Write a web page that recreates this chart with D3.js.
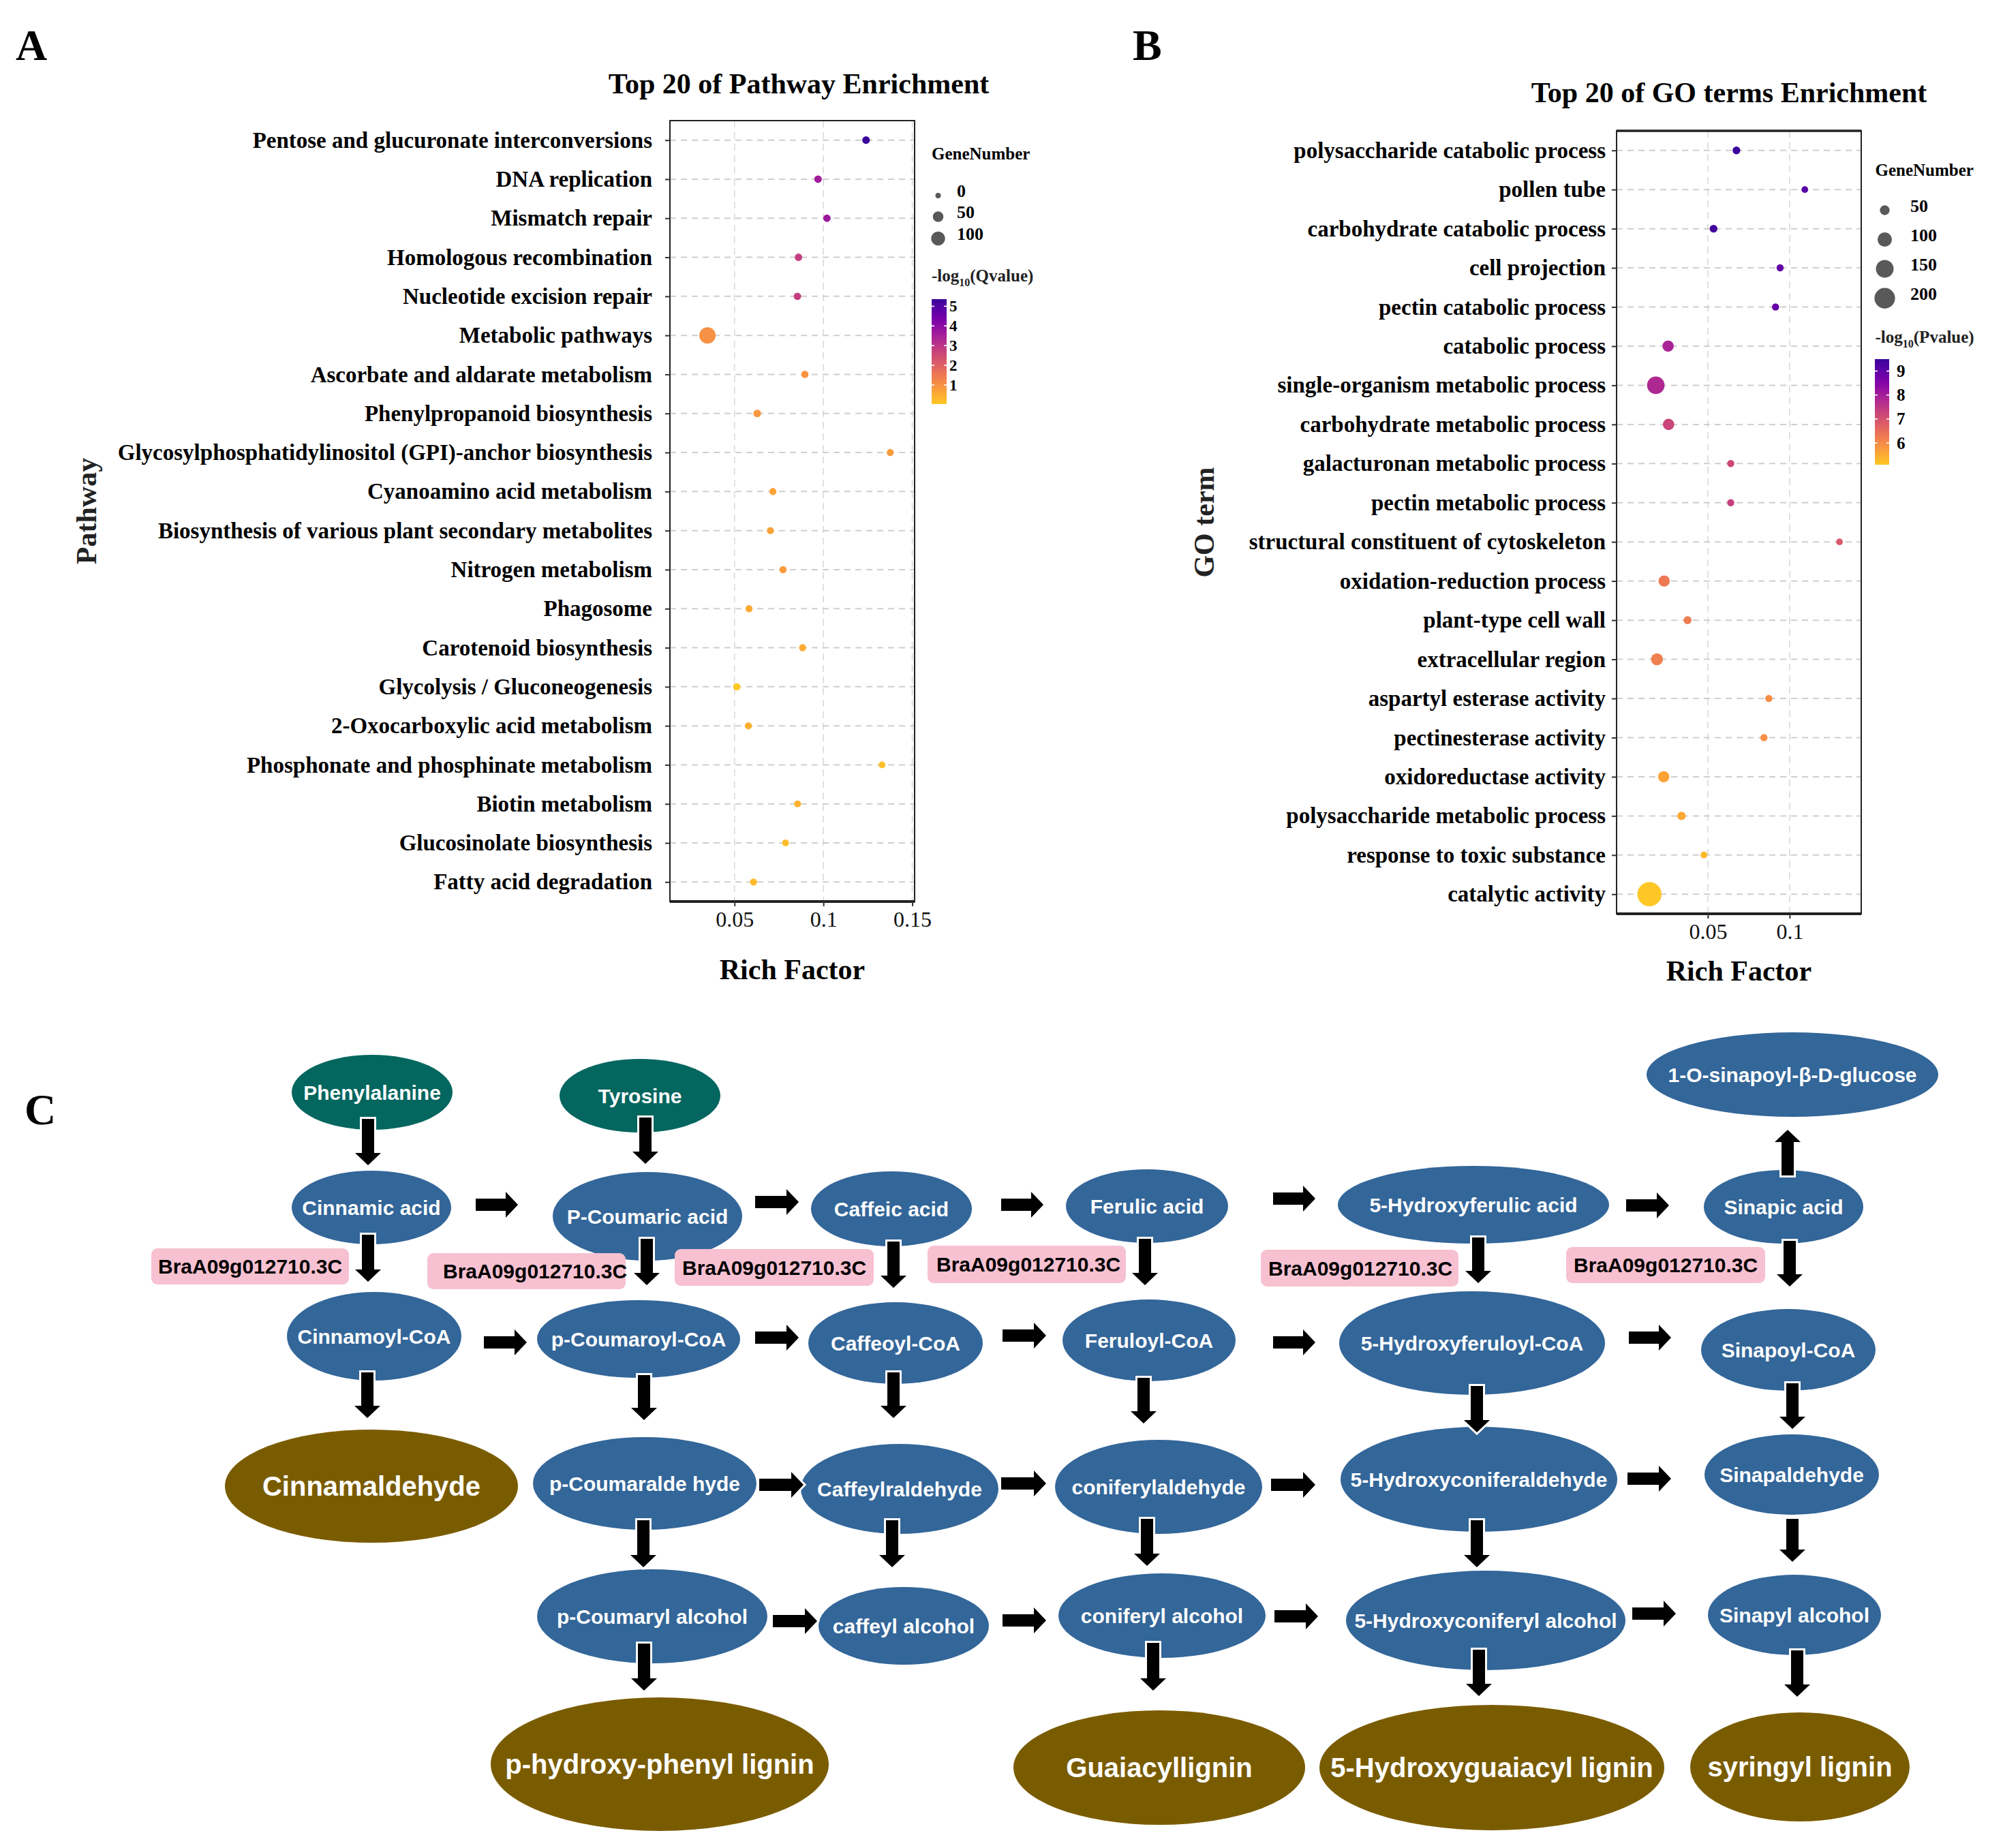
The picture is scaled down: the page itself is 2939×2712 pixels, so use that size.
<!DOCTYPE html>
<html>
<head>
<meta charset="utf-8">
<script src="https://cdn.jsdelivr.net/npm/d3@7"></script>
<style>
  body { margin: 0; background: #fff; }
</style>
</head>
<body>
<svg id="fig"></svg>
<script>
// ---- data: panel A (KEGG pathways) ----
const pathways = [
  'Pentose and glucuronate interconversions', 'DNA replication', 'Mismatch repair',
  'Homologous recombination', 'Nucleotide excision repair', 'Metabolic pathways',
  'Ascorbate and aldarate metabolism', 'Phenylpropanoid biosynthesis',
  'Glycosylphosphatidylinositol (GPI)-anchor biosynthesis', 'Cyanoamino acid metabolism',
  'Biosynthesis of various plant secondary metabolites', 'Nitrogen metabolism', 'Phagosome',
  'Carotenoid biosynthesis', 'Glycolysis / Gluconeogenesis', '2-Oxocarboxylic acid metabolism',
  'Phosphonate and phosphinate metabolism', 'Biotin metabolism', 'Glucosinolate biosynthesis',
  'Fatty acid degradation'
];
const pathwayRich = [0.124, 0.097, 0.102, 0.086, 0.0854, 0.0348, 0.0896, 0.0628, 0.1376, 0.0716,
  0.0702, 0.0773, 0.0582, 0.0883, 0.0513, 0.0578, 0.133, 0.0855, 0.0787, 0.0607];
const pathwayGenes = [17, 16, 15, 15, 15, 142, 14, 17, 12, 13, 12, 13, 12, 12, 14, 13, 10, 11, 10, 12];
const pathwayQ = [5.36, 3.6, 3.7, 2.8, 2.8, 1.0, 0.95, 0.9, 0.8, 0.65, 0.65, 0.8, 0.55, 0.5, 0.03, 0.45,
  0.15, 0.4, 0.2, 0.25];
const pathwayTicks = [0.05, 0.1, 0.15];
const pathwaySizeBreaks = [0, 50, 100];
const pathwayColorBreaks = [1, 2, 3, 4, 5];

// ---- data: panel B (GO terms) ----
const goTerms = [
  'polysaccharide catabolic process', 'pollen tube', 'carbohydrate catabolic process',
  'cell projection', 'pectin catabolic process', 'catabolic process',
  'single-organism metabolic process', 'carbohydrate metabolic process',
  'galacturonan metabolic process', 'pectin metabolic process',
  'structural constituent of cytoskeleton', 'oxidation-reduction process', 'plant-type cell wall',
  'extracellular region', 'aspartyl esterase activity', 'pectinesterase activity',
  'oxidoreductase activity', 'polysaccharide metabolic process', 'response to toxic substance',
  'catalytic activity'
];
const goRich = [0.0675, 0.1093, 0.0535, 0.0942, 0.0914, 0.0257, 0.0182, 0.026, 0.064, 0.064,
  0.1305, 0.0233, 0.0376, 0.0189, 0.0873, 0.0843, 0.023, 0.0339, 0.0476, 0.0143];
const goGenes = [34, 27, 34, 30, 30, 65, 146, 65, 30, 30, 27, 65, 35, 72, 30, 30, 65, 39, 28, 275];
const goP = [9.5, 9.1, 9.4, 9.0, 8.95, 7.9, 7.8, 7.25, 7.2, 7.35, 6.85, 6.3, 6.25, 6.2, 5.95, 5.9,
  5.6, 5.55, 5.3, 5.09];
const goTicks = [0.05, 0.1];
const goSizeBreaks = [50, 100, 150, 200];
const goColorBreaks = [6, 7, 8, 9];

// ---- data: panel C (phenylpropanoid pathway) ----
const startCompounds = ['Phenylalanine', 'Tyrosine'];
const midCompounds = [
  'Cinnamic acid', 'P-Coumaric acid', 'Caffeic acid', 'Ferulic acid', '5-Hydroxyferulic acid',
  'Sinapic acid', '1-O-sinapoyl-β-D-glucose',
  'Cinnamoyl-CoA', 'p-Coumaroyl-CoA', 'Caffeoyl-CoA', 'Feruloyl-CoA', '5-Hydroxyferuloyl-CoA',
  'Sinapoyl-CoA',
  'p-Coumaralde hyde', 'Caffeylraldehyde', 'coniferylaldehyde', '5-Hydroxyconiferaldehyde',
  'Sinapaldehyde',
  'p-Coumaryl alcohol', 'caffeyl alcohol', 'coniferyl alcohol', '5-Hydroxyconiferyl alcohol',
  'Sinapyl alcohol'
];
const endProducts = ['Cinnamaldehyde', 'p-hydroxy-phenyl lignin', 'Guaiacyllignin',
  '5-Hydroxyguaiacyl lignin', 'syringyl lignin'];
const geneLabels = ['BraA09g012710.3C', 'BraA09g012710.3C', 'BraA09g012710.3C',
  'BraA09g012710.3C', 'BraA09g012710.3C', 'BraA09g012710.3C'];

// ---- layout ----
const W = 2939, H = 2712;
const SERIF = '"Liberation Serif", "Times New Roman", serif';
const SANS = '"Liberation Sans", Arial, sans-serif';

const svg = d3.select('#fig')
  .attr('width', W).attr('height', H)
  .attr('viewBox', `0 0 ${W} ${H}`);
svg.append('rect').attr('width', W).attr('height', H).attr('fill', '#fff');
const defs = svg.append('defs');

function plasmaScale(extent) {
  const t = d3.scaleLinear().domain(extent).range([0.885, 0.085]);
  return v => d3.interpolatePlasma(t(v));
}

function bubblePanel(o) {
  const g = svg.append('g');
  const x = d3.scaleLinear().domain(o.xDomain).range([o.left, o.right]);
  const y = d3.scalePoint().domain(o.cats).range([o.top, o.bottom]).padding(0.5);
  const ext = d3.extent(o.sig);
  const col = plasmaScale(ext);
  const area = d3.scaleLinear().domain(o.sizeDomain).range(o.areaRange);
  const r = n => Math.sqrt(Math.max(area(n), 4));

  // grid
  g.selectAll('line.vgrid').data(o.xTicks).join('line').attr('class', 'vgrid')
    .attr('x1', d => x(d)).attr('x2', d => x(d))
    .attr('y1', o.top).attr('y2', o.bottom)
    .attr('stroke', '#dadada').attr('stroke-width', 1.6).attr('stroke-dasharray', '10,7');
  g.selectAll('line.hgrid').data(o.cats).join('line').attr('class', 'hgrid')
    .attr('x1', o.left).attr('x2', o.right)
    .attr('y1', d => y(d)).attr('y2', d => y(d))
    .attr('stroke', '#cfcfcf').attr('stroke-width', 2).attr('stroke-dasharray', '9,7');

  // panel border
  g.append('rect')
    .attr('x', o.left).attr('y', o.top)
    .attr('width', o.right - o.left).attr('height', o.bottom - o.top)
    .attr('fill', 'none').attr('stroke', '#222').attr('stroke-width', 2);
  g.append('line')
    .attr('x1', o.left).attr('x2', o.right).attr('y1', o.bottom).attr('y2', o.bottom)
    .attr('stroke', '#222').attr('stroke-width', 4);
  if (o.thickTop) {
    g.append('line')
      .attr('x1', o.left).attr('x2', o.right).attr('y1', o.top).attr('y2', o.top)
      .attr('stroke', '#222').attr('stroke-width', 3.5);
  }

  // points
  const rows = o.cats.map((c, i) => ({ cat: c, rich: o.rich[i], n: o.genes[i], s: o.sig[i] }));
  g.selectAll('circle.pt').data(rows).join('circle').attr('class', 'pt')
    .attr('cx', d => x(d.rich)).attr('cy', d => y(d.cat))
    .attr('r', d => r(d.n))
    .attr('fill', d => col(d.s));

  // axes
  const ay = g.append('g').attr('transform', `translate(${o.left},0)`)
    .call(d3.axisLeft(y).tickSize(7).tickPadding(o.yPad));
  ay.select('.domain').remove();
  ay.selectAll('line').attr('stroke', '#333').attr('stroke-width', 2);
  ay.selectAll('text')
    .attr('font-family', SERIF).attr('font-weight', 'bold')
    .attr('font-size', 33).attr('fill', '#000');

  const ax = g.append('g').attr('transform', `translate(0,${o.bottom})`)
    .call(d3.axisBottom(x).tickValues(o.xTicks).tickFormat(d => String(d)).tickSize(7).tickPadding(7));
  ax.select('.domain').remove();
  ax.selectAll('line').attr('stroke', '#333').attr('stroke-width', 2);
  ax.selectAll('text')
    .attr('font-family', SERIF).attr('font-size', 32).attr('fill', '#111');

  // titles
  g.append('text').attr('x', o.titleX).attr('y', o.titleY)
    .attr('text-anchor', 'middle').attr('font-family', SERIF).attr('font-weight', 'bold')
    .attr('font-size', 42).text(o.title);
  g.append('text').attr('x', (o.left + o.right) / 2).attr('y', o.xLabelY)
    .attr('text-anchor', 'middle').attr('font-family', SERIF).attr('font-weight', 'bold')
    .attr('font-size', 42).text('Rich Factor');
  g.append('text')
    .attr('transform', `translate(${o.yLabelX},${(o.top + o.bottom) / 2}) rotate(-90)`)
    .attr('text-anchor', 'middle').attr('font-family', SERIF).attr('font-weight', 'bold')
    .attr('font-size', 42).attr('fill', '#222').text(o.yLabel);

  // size legend
  g.append('text').attr('x', o.legX).attr('y', o.sizeTitleY)
    .attr('font-family', SERIF).attr('font-weight', 'bold').attr('font-size', 25)
    .text('GeneNumber');
  g.selectAll('circle.leg').data(o.sizeBreaks).join('circle').attr('class', 'leg')
    .attr('cx', o.sizeCx).attr('cy', (d, i) => o.sizeYs[i])
    .attr('r', d => r(d)).attr('fill', '#595959');
  g.selectAll('text.leg').data(o.sizeBreaks).join('text').attr('class', 'leg')
    .attr('x', o.sizeLabelX).attr('y', (d, i) => o.sizeYs[i] + 2)
    .attr('font-family', SERIF).attr('font-weight', 'bold').attr('font-size', 26)
    .text(d => d);

  // colour legend
  const ct = g.append('text').attr('x', o.legX).attr('y', o.colTitleY)
    .attr('font-family', SERIF).attr('font-weight', 'bold').attr('font-size', 25).attr('fill', '#222');
  ct.append('tspan').text('-log');
  ct.append('tspan').attr('dy', 7).attr('font-size', 16).text('10');
  ct.append('tspan').attr('dy', -7).text(`(${o.sigName})`);

  const gid = 'grad-' + o.sigName;
  const grad = defs.append('linearGradient').attr('id', gid)
    .attr('x1', 0).attr('y1', 1).attr('x2', 0).attr('y2', 0);
  d3.range(0, 1.0001, 0.05).forEach(t => {
    grad.append('stop').attr('offset', t).attr('stop-color', col(ext[0] + t * (ext[1] - ext[0])));
  });
  g.append('rect').attr('x', o.barX).attr('y', o.barTop)
    .attr('width', o.barW).attr('height', o.barBottom - o.barTop)
    .attr('fill', `url(#${gid})`);
  const yb = d3.scaleLinear().domain(ext).range([o.barBottom, o.barTop]);
  o.colorBreaks.forEach(b => {
    [[o.barX, o.barX + 4], [o.barX + o.barW - 4, o.barX + o.barW]].forEach(([a, c]) => {
      g.append('line').attr('x1', a).attr('x2', c).attr('y1', yb(b)).attr('y2', yb(b))
        .attr('stroke', '#fff').attr('stroke-width', 1.6);
    });
  });
  g.selectAll('text.cb').data(o.colorBreaks).join('text').attr('class', 'cb')
    .attr('x', o.barX + o.barW + o.barLabelGap).attr('y', d => yb(d) + o.barFont * 0.34)
    .attr('font-family', SERIF).attr('font-weight', 'bold').attr('font-size', o.barFont)
    .text(d => d);
}

bubblePanel({
  cats: pathways, rich: pathwayRich, genes: pathwayGenes, sig: pathwayQ, sigName: 'Qvalue',
  left: 983, right: 1342, top: 177, bottom: 1323,
  xDomain: [0.0137, 0.1513], xTicks: pathwayTicks, yPad: 19,
  sizeDomain: [0, 100], areaRange: [16, 106],
  title: 'Top 20 of Pathway Enrichment', titleX: 1172, titleY: 137,
  xLabelY: 1437, yLabel: 'Pathway', yLabelX: 141,
  legX: 1367, sizeTitleY: 234, sizeBreaks: pathwaySizeBreaks, sizeYs: [287, 318, 350],
  sizeCx: 1376.5, sizeLabelX: 1404,
  colTitleY: 413, barX: 1367, barW: 22, barTop: 439, barBottom: 593,
  colorBreaks: pathwayColorBreaks, barLabelGap: 4, barFont: 23, thickTop: false
});

bubblePanel({
  cats: goTerms, rich: goRich, genes: goGenes, sig: goP, sigName: 'Pvalue',
  left: 2372, right: 2731, top: 192, bottom: 1341,
  xDomain: [-0.0058, 0.1438], xTicks: goTicks, yPad: 9,
  sizeDomain: [50, 200], areaRange: [51, 228],
  title: 'Top 20 of GO terms Enrichment', titleX: 2537, titleY: 150,
  xLabelY: 1439, yLabel: 'GO term', yLabelX: 1781,
  legX: 2751.5, sizeTitleY: 258, sizeBreaks: goSizeBreaks, sizeYs: [308.5, 351.5, 394.5, 437.6],
  sizeCx: 2765.5, sizeLabelX: 2803,
  colTitleY: 503, barX: 2751, barW: 21, barTop: 527, barBottom: 682,
  colorBreaks: goColorBreaks, barLabelGap: 11, barFont: 25, thickTop: true
});

// panel letters
[['A', 23, 88], ['B', 1662, 88], ['C', 36, 1650]].forEach(([t, px, py]) => {
  svg.append('text').attr('x', px).attr('y', py)
    .attr('font-family', SERIF).attr('font-weight', 'bold').attr('font-size', 64).text(t);
});

// ---- panel C ----
// ellipse geometry: cx, cy, rx, ry
const nodeGeom = {
  'Phenylalanine': [546, 1603, 118, 55], 'Tyrosine': [939, 1608, 118, 54],
  'Cinnamic acid': [545, 1772, 117, 54], 'P-Coumaric acid': [950, 1785, 139, 65],
  'Caffeic acid': [1308, 1774, 118, 55], 'Ferulic acid': [1683, 1770, 119, 54],
  '5-Hydroxyferulic acid': [2162, 1768, 199, 57], 'Sinapic acid': [2617, 1771, 117, 54],
  '1-O-sinapoyl-β-D-glucose': [2630, 1577, 214, 62],
  'Cinnamoyl-CoA': [549, 1961, 128, 65], 'p-Coumaroyl-CoA': [937, 1965, 149, 57],
  'Caffeoyl-CoA': [1314, 1971, 128, 60], 'Feruloyl-CoA': [1686, 1967, 127, 60],
  '5-Hydroxyferuloyl-CoA': [2160, 1971, 195, 76], 'Sinapoyl-CoA': [2624, 1981, 128, 60],
  'p-Coumaralde hyde': [946, 2177, 164, 68], 'Caffeylraldehyde': [1320, 2185, 145, 66],
  'coniferylaldehyde': [1700, 2182, 152, 69], '5-Hydroxyconiferaldehyde': [2170, 2171, 203, 77],
  'Sinapaldehyde': [2629, 2164, 128, 59],
  'p-Coumaryl alcohol': [957, 2372, 169, 69], 'caffeyl alcohol': [1326, 2386, 125, 57],
  'coniferyl alcohol': [1705, 2371, 152, 62], '5-Hydroxyconiferyl alcohol': [2180, 2378, 205, 73],
  'Sinapyl alcohol': [2633, 2370, 127, 59],
  'Cinnamaldehyde': [545, 2181, 215, 83], 'p-hydroxy-phenyl lignin': [968, 2589, 248, 98],
  'Guaiacyllignin': [1701, 2594, 214, 84], '5-Hydroxyguaiacyl lignin': [2189, 2594, 253, 92],
  'syringyl lignin': [2641, 2593, 161, 80]
};
// gene boxes: x, y, w, h, text inset
const geneBoxGeom = [
  [222, 1832, 290, 53, 10], [627, 1839, 291, 53, 23], [990, 1833, 292, 54, 11],
  [1361, 1828, 291, 55, 13], [1850, 1834, 290, 54, 11], [2298, 1830, 292, 53, 11]
];
// arrows: tail x, tail y, tip x, tip y
const arrowGeom = [
  [540, 1642, 540, 1710], [947, 1640, 947, 1708],
  [540, 1812, 540, 1881], [949, 1818, 949, 1886], [1311, 1822, 1311, 1890],
  [1680, 1818, 1680, 1886], [2169, 1816, 2169, 1883], [2626, 1821, 2626, 1888],
  [2623, 1725, 2623, 1658],
  [539, 2014, 539, 2081], [945, 2018, 945, 2084], [1311, 2014, 1311, 2081],
  [1678, 2022, 1678, 2089], [2167, 2034, 2167, 2102], [2630, 2030, 2630, 2097],
  [944, 2231, 944, 2300], [1309, 2231, 1309, 2300], [1683, 2229, 1683, 2298],
  [2167, 2231, 2167, 2300], [2630, 2229, 2630, 2292],
  [945, 2412, 945, 2481], [1692, 2411, 1692, 2481], [2170, 2421, 2170, 2489],
  [2637, 2422, 2637, 2490],
  [698, 1768, 760, 1768], [1108, 1764, 1172, 1764], [1469, 1768, 1531, 1768],
  [1868, 1759, 1930, 1759], [2386, 1769, 2449, 1769],
  [710, 1970, 773, 1970], [1108, 1963, 1172, 1963], [1471, 1960, 1535, 1960],
  [1868, 1970, 1930, 1970], [2390, 1963, 2452, 1963],
  [1114, 2179, 1179, 2179], [1469, 2177, 1535, 2177], [1865, 2179, 1930, 2179],
  [2388, 2170, 2452, 2170],
  [1134, 2379, 1199, 2379], [1471, 2378, 1535, 2378], [1870, 2372, 1934, 2372],
  [2395, 2368, 2459, 2368]
];

const cg = svg.append('g');
const nodeGroups = [
  { names: startCompounds, fill: '#03665f', font: 30 },
  { names: midCompounds, fill: '#336699', font: 30 },
  { names: endProducts, fill: '#7a5c00', font: 40 }
];
nodeGroups.forEach(grp => {
  grp.names.forEach(name => {
    const [cx, cy, rx, ry] = nodeGeom[name];
    cg.append('ellipse').attr('cx', cx).attr('cy', cy).attr('rx', rx).attr('ry', ry)
      .attr('fill', grp.fill);
    cg.append('text').attr('x', cx).attr('y', cy + grp.font * 0.36)
      .attr('text-anchor', 'middle').attr('font-family', SANS).attr('font-weight', 'bold')
      .attr('font-size', grp.font).attr('fill', '#fff').text(name);
  });
});

geneLabels.forEach((lab, i) => {
  const [bx, by, bw, bh, inset] = geneBoxGeom[i];
  cg.append('rect').attr('x', bx).attr('y', by).attr('width', bw).attr('height', bh)
    .attr('rx', 9).attr('fill', '#f7c1d1');
  cg.append('text').attr('x', bx + inset).attr('y', by + bh / 2 + 10.5)
    .attr('font-family', SANS).attr('font-weight', 'bold').attr('font-size', 30)
    .attr('fill', '#000').text(lab);
});

function arrowPoints([x1, y1, x2, y2]) {
  const dx = x2 - x1, dy = y2 - y1, L = Math.hypot(dx, dy);
  const ux = dx / L, uy = dy / L, px = -uy, py = ux;
  const sw = 9, hw = 19, hl = 18;
  const pts = [[0, -sw], [L - hl, -sw], [L - hl, -hw], [L, 0], [L - hl, hw], [L - hl, sw], [0, sw]];
  return pts.map(([a, b]) => [x1 + ux * a + px * b, y1 + uy * a + py * b].join(',')).join(' ');
}
cg.selectAll('polygon.arrow').data(arrowGeom).join('polygon').attr('class', 'arrow')
  .attr('points', arrowPoints)
  .attr('fill', '#000').attr('stroke', '#fff').attr('stroke-width', 6)
  .attr('stroke-linejoin', 'miter').attr('paint-order', 'stroke');
</script>
</body>
</html>
